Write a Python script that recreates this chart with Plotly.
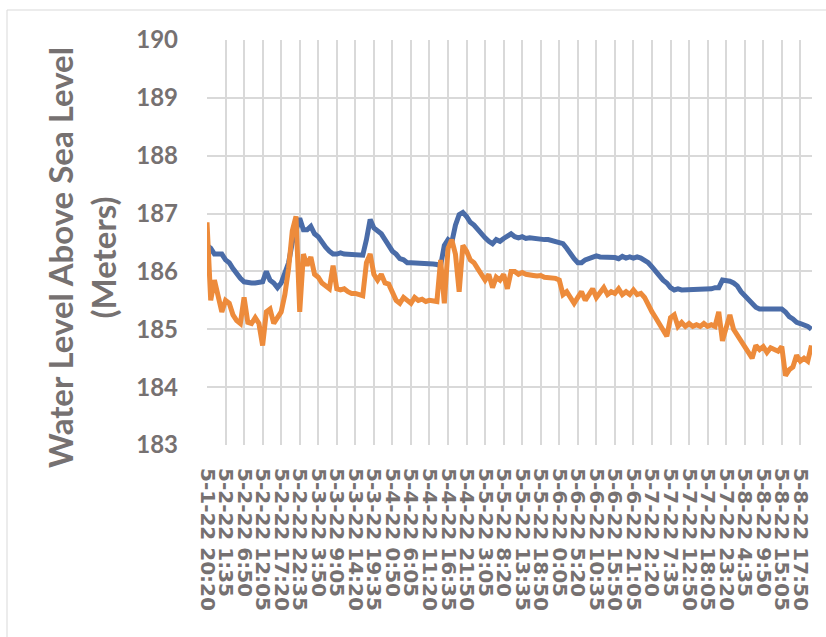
import plotly.graph_objects as go

# Water level readings (m above sea level), one value per sample step
upper_level = [
    186.45, 186.40, 186.30, 186.30, 186.30, 186.20, 186.15, 186.05, 185.95, 185.88,
    185.82, 185.80, 185.80, 185.80, 185.80, 185.82, 186.00, 185.85, 185.80, 185.72,
    185.80, 185.95, 186.15, 186.50, 186.75, 186.92, 186.72, 186.72, 186.78, 186.65,
    186.60, 186.50, 186.42, 186.35, 186.30, 186.30, 186.32, 186.30, 186.30, 186.30,
    186.28, 186.30, 186.28, 186.55, 186.90, 186.75, 186.70, 186.65, 186.55, 186.45,
    186.35, 186.30, 186.22, 186.20, 186.15, 186.15, 186.15, 186.13, 186.15, 186.13,
    186.13, 186.13, 186.12, 186.10, 186.45, 186.55, 186.50, 186.80, 186.98, 187.02,
    186.95, 186.85, 186.80, 186.72, 186.65, 186.58, 186.52, 186.48, 186.55, 186.52,
    186.57, 186.62, 186.65, 186.60, 186.58, 186.60, 186.57, 186.58, 186.57, 186.55,
    186.55, 186.55, 186.55, 186.53, 186.52, 186.50, 186.48, 186.40, 186.30, 186.22,
    186.15, 186.15, 186.20, 186.22, 186.25, 186.27, 186.25, 186.25, 186.23, 186.23,
    186.24, 186.22, 186.26, 186.23, 186.25, 186.23, 186.25, 186.23, 186.20, 186.15,
    186.08, 186.00, 185.92, 185.85, 185.80, 185.72, 185.68, 185.70, 185.68, 185.68,
    185.70, 185.68, 185.68, 185.70, 185.70, 185.70, 185.70, 185.72, 185.72, 185.85,
    185.85, 185.83, 185.80, 185.75, 185.65, 185.58, 185.50, 185.42, 185.38, 185.35,
    185.35, 185.33, 185.35, 185.33, 185.33, 185.35, 185.30, 185.22, 185.18, 185.12,
    185.10, 185.08, 185.05, 185.00,
]

lower_level = [
    186.85, 185.50, 185.85, 185.55, 185.30, 185.50, 185.45, 185.25, 185.15, 185.10,
    185.55, 185.12, 185.10, 185.20, 185.10, 184.72, 185.30, 185.35, 185.10, 185.20,
    185.30, 185.60, 186.05, 186.70, 186.95, 185.30, 186.30, 186.10, 186.25, 185.95,
    185.90, 185.80, 185.75, 185.70, 186.10, 185.70, 185.68, 185.70, 185.65, 185.62,
    185.62, 185.60, 185.58, 186.15, 186.30, 185.95, 185.85, 185.95, 185.80, 185.78,
    185.65, 185.50, 185.45, 185.55, 185.50, 185.45, 185.55, 185.50, 185.52, 185.48,
    185.50, 185.48, 185.48, 186.20, 185.45, 186.40, 186.55, 186.30, 185.65, 186.45,
    186.35, 186.20, 186.15, 186.05, 185.95, 185.85, 185.95, 185.72, 185.90, 185.85,
    185.95, 185.70, 186.00, 186.00, 185.95, 185.98, 185.95, 185.95, 185.93, 185.92,
    185.93, 185.90, 185.90, 185.88, 185.88, 185.85, 185.60, 185.65, 185.55, 185.45,
    185.55, 185.65, 185.50, 185.60, 185.70, 185.55, 185.65, 185.72, 185.60, 185.65,
    185.62, 185.70, 185.60, 185.65, 185.60, 185.68, 185.60, 185.62, 185.55, 185.40,
    185.30, 185.20, 185.10, 185.00, 184.88, 185.20, 185.25, 185.05, 185.12, 185.05,
    185.10, 185.05, 185.08, 185.05, 185.10, 185.05, 185.08, 185.05, 185.30, 184.80,
    185.00, 185.25, 185.00, 184.90, 184.82, 184.70, 184.60, 184.50, 184.72, 184.65,
    184.70, 184.60, 184.68, 184.65, 184.62, 184.70, 184.20, 184.30, 184.35, 184.55,
    184.45, 184.50, 184.45, 184.72,
]

# Timestamp labels, one every LABEL_STEP samples
time_labels = [
    "5-1-22 20:20", "5-2-22 1:35", "5-2-22 6:50", "5-2-22 12:05", "5-2-22 17:20",
    "5-2-22 22:35", "5-3-22 3:50", "5-3-22 9:05", "5-3-22 14:20", "5-3-22 19:35",
    "5-4-22 0:50", "5-4-22 6:05", "5-4-22 11:20", "5-4-22 16:35", "5-4-22 21:50",
    "5-5-22 3:05", "5-5-22 8:20", "5-5-22 13:35", "5-5-22 18:50", "5-6-22 0:05",
    "5-6-22 5:20", "5-6-22 10:35", "5-6-22 15:50", "5-6-22 21:05", "5-7-22 2:20",
    "5-7-22 7:35", "5-7-22 12:50", "5-7-22 18:05", "5-7-22 23:20", "5-8-22 4:35",
    "5-8-22 9:50", "5-8-22 15:05", "5-8-22 17:50",
]
LABEL_STEP = 5

samples = list(range(len(upper_level)))
label_pos = [k * LABEL_STEP for k in range(len(time_labels))]

TEXT = "#767171"
GRID = "#d9d9d9"
FONT = "Lato"
TICK_FONT = "DejaVu Sans"

fig = go.Figure()
fig.add_trace(go.Scatter(x=samples, y=upper_level, mode="lines",
                         line=dict(color="#4a6ca8", width=5), showlegend=False))
fig.add_trace(go.Scatter(x=samples, y=lower_level, mode="lines",
                         line=dict(color="#ed8b3b", width=5), showlegend=False))

fig.update_layout(
    width=826, height=637,
    margin=dict(l=207, r=14, t=40, b=192),
    paper_bgcolor="white", plot_bgcolor="white",
    font=dict(family=FONT, color=TEXT),
    xaxis=dict(
        range=[0, 163.15], tickmode="array", tickvals=label_pos, ticktext=time_labels,
        tickangle=90, showgrid=True, gridcolor=GRID, gridwidth=2, zeroline=False,
        showline=False, ticks="", ticklabelstandoff=22,
        tickfont=dict(family=TICK_FONT, size=20, color=TEXT, weight="bold"),
    ),
    yaxis=dict(
        range=[183, 190], dtick=1, showgrid=True, gridcolor=GRID, gridwidth=2,
        zeroline=False, showline=False, ticks="", ticklabelstandoff=28,
        tickfont=dict(family=FONT, size=24, color=TEXT, weight="bold"),
    ),
    annotations=[dict(
        text="Water Level Above Sea Level<br>(Meters)", textangle=-90,
        xref="paper", yref="paper", x=(81 - 207) / 605, y=(445 - 258) / 405,
        xanchor="center", yanchor="middle", showarrow=False,
        font=dict(family=FONT, size=33, color=TEXT, weight="bold"),
    )],
    shapes=[dict(type="rect", xref="paper", yref="paper",
                 x0=(7 - 207) / 605, x1=(830 - 207) / 605,
                 y0=(445 - 645) / 405, y1=(445 - 10) / 405,
                 line=dict(color=GRID, width=1), layer="below")],
)

fig.write_html("out.html")
